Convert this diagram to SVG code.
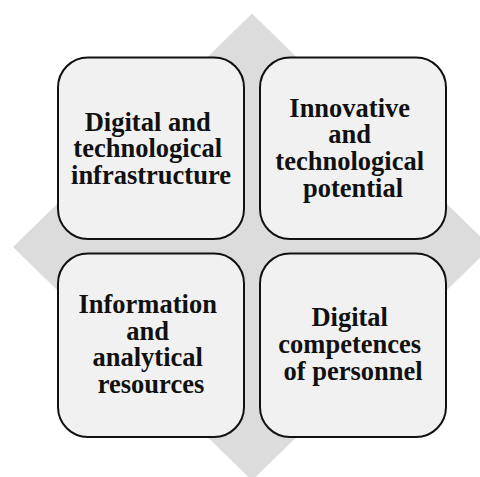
<svg xmlns="http://www.w3.org/2000/svg" width="480" height="477" viewBox="0 0 480 477">
  <style>
    .box { fill: #f1f1f1; stroke: #111; stroke-width: 2; }
    .label { font-family: "Liberation Serif", "Times New Roman", serif; font-weight: bold; font-size: 26.5px; fill: #111; text-anchor: middle; }
  </style>
  <rect width="480" height="477" fill="#ffffff"/>
  <!-- background diamond -->
  <polygon points="252,13.5 491,247 252,480.5 13,247" fill="#dcdcdc"/>
  <g id="connectors"></g>
  <g id="node-infrastructure">
    <rect class="box" x="58" y="57.5" width="186" height="181.5" rx="30" ry="30"/>
    <text class="label" x="151">
      <tspan x="151" y="130.5">Digital and</tspan>
      <tspan x="151" y="157.2">technological</tspan>
      <tspan x="151" y="184">infrastructure</tspan>
    </text>
  </g>
  <g id="node-potential">
    <rect class="box" x="260" y="57.5" width="186" height="181.5" rx="30" ry="30"/>
    <text class="label">
      <tspan x="353" y="116.7">Innovative</tspan>
      <tspan x="353" y="143.4">and</tspan>
      <tspan x="353" y="170.1">technological</tspan>
      <tspan x="353" y="196.8">potential</tspan>
    </text>
  </g>
  <g id="node-resources">
    <rect class="box" x="58" y="253.5" width="186" height="183.5" rx="30" ry="30"/>
    <text class="label">
      <tspan x="151" y="313">Information</tspan>
      <tspan x="151" y="339.7">and</tspan>
      <tspan x="151" y="366.4">analytical</tspan>
      <tspan x="151" y="393.1">resources</tspan>
    </text>
  </g>
  <g id="node-competences">
    <rect class="box" x="260" y="253.5" width="186" height="183.5" rx="30" ry="30"/>
    <text class="label">
      <tspan x="353" y="326.3">Digital</tspan>
      <tspan x="353" y="353">competences</tspan>
      <tspan x="353" y="379.7">of personnel</tspan>
    </text>
  </g>
</svg>
